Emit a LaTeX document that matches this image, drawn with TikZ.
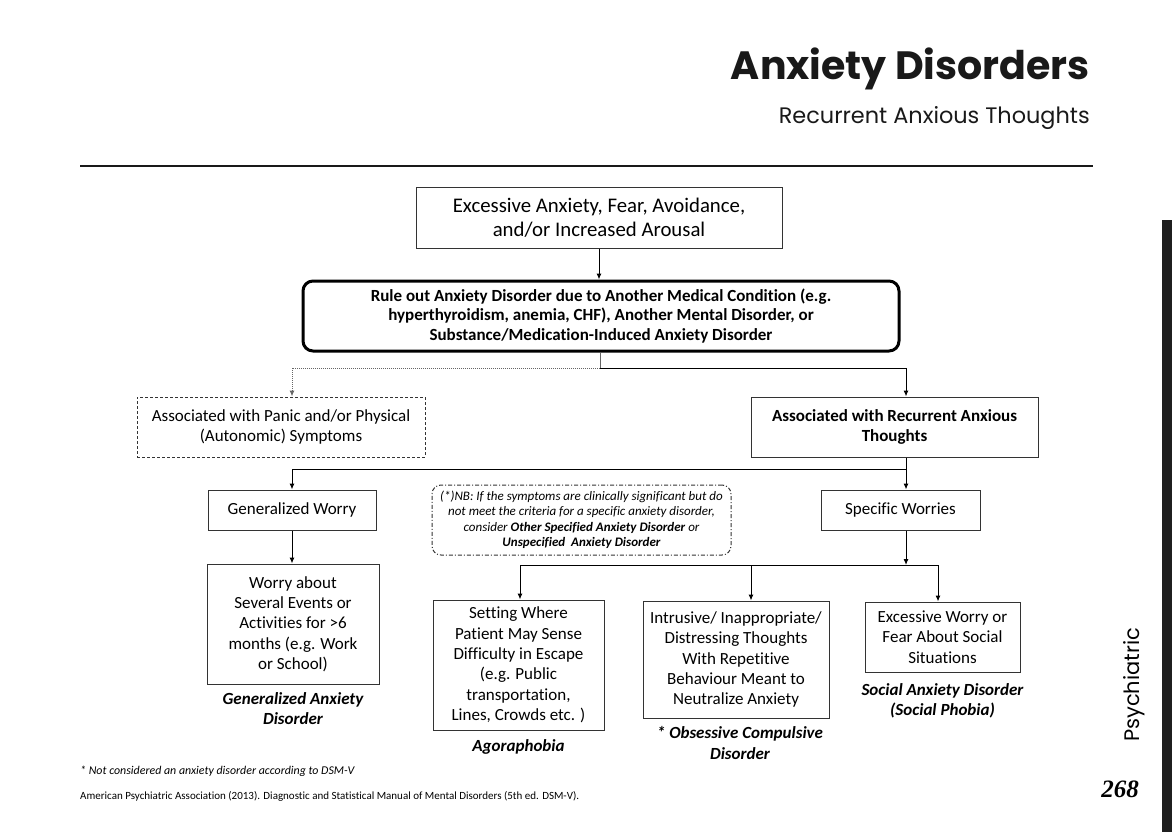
\documentclass[tikz,border=0pt]{standalone}
\usepackage{fontspec}
\setmainfont{Carlito}[Ligatures=NoCommon]
\newfontfamily\headfont{Poppins}
\newfontfamily\numfont{Liberation Serif}
\usetikzlibrary{arrows.meta,positioning}
\definecolor{boxgray}{HTML}{333333}
\tikzset{
  box/.style={draw=boxgray,line width=1pt,inner sep=0pt,align=center,
    font=\fontsize{17}{20.3}\selectfont},
  dashbox/.style={box,dash pattern=on 3pt off 2pt},
  rulebox/.style={box,line width=3pt,draw=black,rounded corners=10pt,
    font=\fontsize{17}{19.6}\selectfont\bfseries},
  notebox/.style={box,rounded corners=9pt,dash pattern=on 4pt off 2pt on 1pt off 2pt,
    font=\fontsize{13}{15.5}\selectfont\itshape},
  dxlabel/.style={align=center,inner sep=0pt,
    font=\fontsize{17}{20.3}\selectfont\bfseries\itshape},
  arr/.style={-{Latex[length=6pt,width=5pt]},line width=1pt},
}
\begin{document}
\begin{tikzpicture}[x=1pt,y=-1pt]
  \useasboundingbox (0,0) rectangle (1172,832);
  % header
  \node[anchor=base east,inner sep=0pt,font=\headfont\fontsize{39.5}{40}\selectfont\bfseries,text=black!90] (title) at (1090,80) {Anxiety Disorders};
  \node[anchor=base east,inner sep=0pt,font=\headfont\fontsize{22.4}{23}\selectfont,text=black!90] (subtitle) at (1090,124) {Recurrent Anxious Thoughts};
  \draw[line width=1.2pt,black!90] (80,166) -- (1093,166);
  \fill[black!88] (1162,220) rectangle (1172,832);
  \node[rotate=90,anchor=base west,inner sep=0pt,font=\headfont\fontsize{21}{21}\selectfont] (section) at (1139,742) {Psychiatric};
  \node[anchor=base east,inner sep=0pt,font=\numfont\fontsize{25}{25}\selectfont\bfseries\itshape] (page) at (1139,797) {268};

  % boxes
  \node[box,font=\fontsize{20.8}{24.5}\selectfont,minimum width=366,minimum height=61] (top) at (599,217.5) {Excessive Anxiety, Fear, Avoidance,\\and/or Increased Arousal};
  \node[rulebox,minimum width=596,minimum height=70] (rule) at (601,316) {Rule out Anxiety Disorder due to Another Medical Condition (e.g.\\hyperthyroidism, anemia, CHF), Another Mental Disorder, or\\Substance/Medication-Induced Anxiety Disorder};
  \node[dashbox,minimum width=288,minimum height=60] (panic) at (281,427) {Associated with Panic and/or Physical\\(Autonomic) Symptoms};
  \node[box,font=\fontsize{17}{20.3}\selectfont\bfseries,minimum width=287,minimum height=60] (recur) at (894.5,427) {Associated with Recurrent Anxious\\Thoughts};
  \node[box,minimum width=168,minimum height=40] (genw) at (292,510) {Generalized Worry};
  \node[box,minimum width=159,minimum height=40] (specw) at (900.5,510) {Specific Worries};
  \node[notebox,minimum width=299,minimum height=70] (note) at (581.5,520) {(*)NB: If the symptoms are clinically significant but do\\not meet the criteria for a specific anxiety disorder,\\consider \textbf{Other Specified Anxiety Disorder} or\\\textbf{Unspecified\ \ Anxiety Disorder}};
  \node[box,minimum width=172,minimum height=120] (worry) at (293,624) {Worry about\\Several Events or\\Activities for >6\\months (e.g. Work\\or School)};
  \node[box,minimum width=171,minimum height=130] (agora) at (518.5,665) {Setting Where\\Patient May Sense\\Difficulty in Escape\\(e.g. Public\\transportation,\\Lines, Crowds etc. )};
  \node[box,minimum width=186,minimum height=117] (ocd) at (736,659.5) {Intrusive/ Inappropriate/\\Distressing Thoughts\\With Repetitive\\Behaviour Meant to\\Neutralize Anxiety};
  \node[box,minimum width=155,minimum height=70] (social) at (942.5,637) {Excessive Worry or\\Fear About Social\\Situations};

  % diagnoses
  \node[dxlabel,below=8pt of worry] (gad) {Generalized Anxiety\\Disorder};
  \node[dxlabel,below=9pt of agora] (agoradx) {Agoraphobia};
  \node[dxlabel,below=8pt of ocd,xshift=4pt] (ocddx) {* Obsessive Compulsive\\Disorder};
  \node[dxlabel,below=11pt of social] (socialdx) {Social Anxiety Disorder\\(Social Phobia)};

  % connectors
  \coordinate (split1) at (600,368);
  \coordinate (split2) at (906,469);
  \coordinate (split3) at (906,565);
  \draw[arr] (top.south) -- (top.south |- rule.north);
  \draw[line width=1pt,black!60] (rule.south -| split1) -- (split1);
  \draw[arr,black!60,densely dotted] (split1) -| ([xshift=11pt]panic.north);
  \draw[arr] (split1) -| (split2 |- recur.north);
  \draw[line width=1pt] (recur.south -| split2) -- (split2);
  \draw[arr] (split2) -| (genw.north);
  \draw[arr] (split2) -- (split2 |- specw.north);
  \draw[arr] (genw.south) -- (genw.south |- worry.north);
  \draw[arr] (specw.south -| split3) -- (split3);
  \draw[arr] (split3) -| ([xshift=1.5pt]agora.north);
  \draw[arr] (split3) -| ([xshift=15pt]ocd.north);
  \draw[arr] (split3) -| ([xshift=-4.5pt]social.north);

  % footer
  \node[anchor=west,inner sep=0pt,font=\fontsize{11.9}{13}\selectfont\itshape] (fn) at (80,771) {* Not considered an anxiety disorder according to DSM-V};
  \node[anchor=west,inner sep=0pt,font=\fontsize{11}{12}\selectfont] (ref) at (80,796) {American Psychiatric Association (2013). Diagnostic and Statistical Manual of Mental Disorders (5th ed. DSM-V).};
\end{tikzpicture}
\end{document}
